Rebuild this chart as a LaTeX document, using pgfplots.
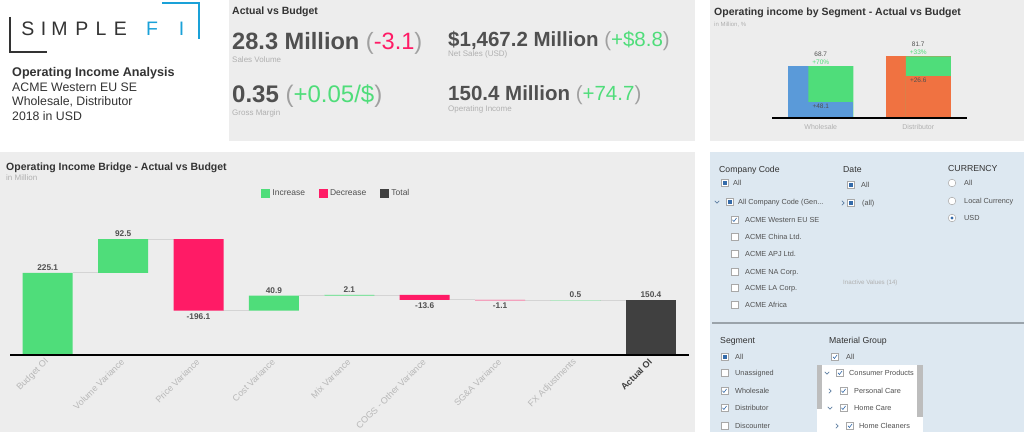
\documentclass[border=0pt]{standalone}
\usepackage{fontspec}
\setmainfont{Liberation Sans}
\usepackage{pgfplots}
\usepackage{pgfplotstable}
\pgfplotsset{compat=1.18}

\definecolor{panel}{HTML}{EDEDED}
\definecolor{filterbg}{HTML}{DDE8F1}
\definecolor{incgreen}{HTML}{4FDD7A}
\definecolor{decpink}{HTML}{FF1B66}
\definecolor{totgray}{HTML}{404040}
\definecolor{segblue}{HTML}{5A9AD9}
\definecolor{segorange}{HTML}{F07241}
\definecolor{logoblue}{HTML}{1AA1D8}
\definecolor{txtdark}{HTML}{333333}
\definecolor{txtmid}{HTML}{505050}
\definecolor{txtlight}{HTML}{B0B0B0}
\definecolor{tickgray}{HTML}{B8B8B8}
\definecolor{conngray}{HTML}{D4D4D4}
\definecolor{parengray}{HTML}{A0A0A0}
\definecolor{selblue}{HTML}{346BAA}
\definecolor{boxgray}{HTML}{A8A8A8}
\definecolor{scrollgray}{HTML}{BDBDBD}
\definecolor{divgray}{HTML}{9AA3AA}
\definecolor{chev}{HTML}{5F7FA3}

\newcommand{\fs}[1]{\fontsize{#1}{#1}\selectfont}

% waterfall: invisible base + increase / decrease / total
\pgfplotstableread{
x base  inc   dec   tot
0 0     225.1 0     0
1 225.1 92.5  0     0
2 121.5 0     196.1 0
3 121.5 40.9  0     0
4 162.4 2.1   0     0
5 150.9 0     13.6  0
6 149.8 0     1.1   0
7 149.8 0.5   0     0
8 0     0     0     150.4
}\wfdata

% checkbox helpers (x, y of centre)
\newcommand{\boxE}[2]{\draw[boxgray,fill=white,line width=0.5pt] ({#1-3.5},{#2-3.5}) rectangle ({#1+3.5},{#2+3.5});}
\newcommand{\boxP}[2]{\boxE{#1}{#2}\fill[selblue] ({#1-2},{#2-2}) rectangle ({#1+2},{#2+2});}
\newcommand{\boxC}[2]{\boxE{#1}{#2}\draw[selblue,line width=0.6pt] ({#1-2},{#2+0.2}) -- ({#1-0.6},{#2-1.5}) -- ({#1+2},{#2+2});}
\newcommand{\radE}[2]{\draw[boxgray,fill=white,line width=0.5pt] (#1,#2) circle (3.8);}
\newcommand{\radS}[2]{\radE{#1}{#2}\fill[selblue] (#1,#2) circle (1.6);}
\newcommand{\chevD}[2]{\draw[chev,line width=0.6pt] ({#1-2.2},{#2+1.1}) -- (#1,{#2-1.1}) -- ({#1+2.2},{#2+1.1});}
\newcommand{\chevR}[2]{\draw[chev,line width=0.6pt] ({#1-1.1},{#2+2.2}) -- ({#1+1.1},#2) -- ({#1-1.1},{#2-2.2});}
\newcommand{\itm}[3]{\node[anchor=base west,inner sep=0,font=\fs{7.3},text=txtmid] at (#1,#2) {#3};}
\newcommand{\hdr}[3]{\node[anchor=base west,inner sep=0,font=\fs{8.7},text=txtdark] at (#1,#2) {#3};}

\pgfplotsset{
  wfgeom/.style={
    at={(10pt,77pt)}, anchor=south west, scale only axis,
    width=678.6pt, height=146pt,
    xmin=-0.5, xmax=8.5, ymin=0, ymax=400, clip=false,
  },
}

\begin{document}
\begin{tikzpicture}[x=1pt,y=1pt]
\useasboundingbox (0,0) rectangle (1024,432);
\fill[white] (0,0) rectangle (1024,432);

% panels
\fill[panel] (229,291) rectangle (695,432);
\fill[panel] (710,291) rectangle (1024,432);
\fill[panel] (0,0) rectangle (695,280);
\fill[filterbg] (710,0) rectangle (1024,280);
\draw[divgray,line width=1.3pt] (712,109) -- (1024,109);

% logo
\draw[txtdark,line width=2.2pt] (10,415) -- (10,380) -- (47,380);
\draw[logoblue,line width=2.2pt] (162,429) -- (199,429) -- (199,393);
\foreach \c/\xx in {S/28,I/43.5,M/59.5,P/82,L/101,E/120.5}
  \node[anchor=base,inner sep=0,font=\fs{19.5},text=txtdark] at (\xx,396) {\c};
\foreach \c/\xx in {F/152,I/181.5}
  \node[anchor=base,inner sep=0,font=\fs{19.5},text=logoblue] at (\xx,396) {\c};

\node[anchor=base west,inner sep=0,font=\bfseries\fs{12.6},text=txtdark] at (12,355.5) {Operating Income Analysis};
\node[anchor=base west,inner sep=0,font=\fs{12.3},text=txtdark] at (12,340.5) {ACME Western EU SE};
\node[anchor=base west,inner sep=0,font=\fs{12.3},text=txtdark] at (12,326.5) {Wholesale, Distributor};
\node[anchor=base west,inner sep=0,font=\fs{12.3},text=txtdark] at (12,311.5) {2018 in USD};

% KPI panel
\node[anchor=base west,inner sep=0,font=\bfseries\fs{10.5},text=txtdark] at (232,417) {Actual vs Budget};
\node[anchor=base west,inner sep=0,font=\fs{23.6},text=txtmid] at (232,382)
  {\textbf{28.3 Million} {\color{parengray}(}{\color{decpink}-3.1}{\color{parengray})}};
\node[anchor=base west,inner sep=0,font=\fs{8},text=txtlight] at (232,369.5) {Sales Volume};
\node[anchor=base west,inner sep=0,font=\fs{20.5},text=txtmid] at (448,385)
  {\textbf{\$1,467.2 Million} {\color{parengray}(}{\color{incgreen}+\$8.8}{\color{parengray})}};
\node[anchor=base west,inner sep=0,font=\fs{8},text=txtlight] at (448,375) {Net Sales (USD)};
\node[anchor=base west,inner sep=0,font=\fs{24},text=txtmid] at (232,330)
  {\textbf{0.35} {\color{parengray}(}{\color{incgreen}+0.05/\$}{\color{parengray})}};
\node[anchor=base west,inner sep=0,font=\fs{8},text=txtlight] at (232,316.5) {Gross Margin};
\node[anchor=base west,inner sep=0,font=\fs{20.5},text=txtmid] at (448,331)
  {\textbf{150.4 Million} {\color{parengray}(}{\color{incgreen}+74.7}{\color{parengray})}};
\node[anchor=base west,inner sep=0,font=\fs{8},text=txtlight] at (448,320.5) {Operating Income};

% segment chart
\node[anchor=base west,inner sep=0,font=\bfseries\fs{10.5},text=txtdark] at (714,416) {Operating income by Segment - Actual vs Budget};
\node[anchor=base west,inner sep=0,font=\fs{6},text=txtlight] at (714,405) {in Million, \%};
\begin{axis}[
  at={(772pt,314pt)}, anchor=south west, scale only axis,
  width=195pt, height=75.5pt,
  xmin=-0.5, xmax=1.5, ymin=0, ymax=100, clip=false,
  axis x line*=bottom, axis y line=none, axis on top,
  x axis line style={-,black,line width=1.6pt},
  xtick={0,1}, xticklabels={Wholesale,Distributor},
  major tick length=0pt, ytick=\empty,
  xticklabel style={font=\fs{7},text=txtlight,yshift=-2.5pt},
  every node near coord/.append style={font=\fontsize{6.5}{8}\selectfont,align=center,inner sep=1.5pt},
]
\addplot[ybar,bar width=65pt,bar shift=0pt,fill=segblue,draw=none,
  nodes near coords,point meta=explicit symbolic]
  coordinates {(0,68.7) [{\color{txtmid}68.7}\\{\color{incgreen}+70\%}]};
\addplot[ybar,bar width=65pt,bar shift=0pt,fill=segorange,draw=none,
  nodes near coords,point meta=explicit symbolic]
  coordinates {(1,81.7) [{\color{txtmid}81.7}\\{\color{incgreen}+33\%}]};
\addplot[ybar,bar width=45pt,bar shift=10pt,fill=incgreen,draw=none]
  coordinates {(0,68.7) (1,81.7)};
\addplot[ybar,bar width=45pt,bar shift=10pt,fill=segblue,draw=none,
  nodes near coords,point meta=explicit symbolic,
  every node near coord/.append style={anchor=north,text=txtmid}]
  coordinates {(0,20.6) [+48.1]};
\addplot[ybar,bar width=45pt,bar shift=10pt,fill=segorange,draw=none,
  nodes near coords,point meta=explicit symbolic,
  every node near coord/.append style={anchor=north,text=txtmid}]
  coordinates {(1,55.1) [+26.6]};
\end{axis}

% waterfall
\node[anchor=base west,inner sep=0,font=\bfseries\fs{10.5},text=txtdark] at (6,262) {Operating Income Bridge - Actual vs Budget};
\node[anchor=base west,inner sep=0,font=\fs{8},text=txtlight] at (6,251.5) {in Million};

\begin{axis}[wfgeom, hide axis]
% connectors between bars
\addplot[conngray,line width=0.9pt,unbounded coords=jump] coordinates {
  (0.33,225.1) (0.67,225.1) (0.67,nan)
  (1.33,317.6) (1.67,317.6) (1.67,nan)
  (2.33,121.5) (2.67,121.5) (2.67,nan)
  (3.33,162.4) (3.67,162.4) (3.67,nan)
  (4.33,164.5) (4.67,164.5) (4.67,nan)
  (5.33,150.9) (5.67,150.9) (5.67,nan)
  (6.33,149.8) (6.67,149.8) (6.67,nan)
  (7.33,150.3) (7.67,150.3)
};
% value labels above
\addplot[draw=none,nodes near coords,point meta=explicit symbolic,
  every node near coord/.append style={anchor=south,font=\bfseries\fs{8.3},text=txtmid,inner sep=2pt}]
  coordinates {(0,225.1)[225.1] (1,317.6)[92.5] (3,162.4)[40.9] (4,164.5)[2.1] (7,150.3)[0.5] (8,150.4)[150.4]};
% value labels below
\addplot[draw=none,nodes near coords,point meta=explicit symbolic,
  every node near coord/.append style={anchor=north,font=\bfseries\fs{8.3},text=txtmid,inner sep=2.5pt}]
  coordinates {(2,121.5)[-196.1] (5,150.9)[-13.6] (6,149.8)[-1.1]};
\end{axis}

\begin{axis}[wfgeom,
  ybar stacked, bar width=50pt,
  axis x line*=bottom, axis y line=none, axis on top,
  x axis line style={-,black,line width=1.6pt},
  xtick={0,...,8},
  xticklabels={Budget OI,Volume Variance,Price Variance,Cost Variance,Mix Variance,COGS - Other Variance,SG\&A Variance,FX Adjustments,{\bfseries\color{totgray}Actual OI}},
  xticklabel style={xshift=2pt,yshift=-3pt,rotate=45,anchor=east,font=\fs{9},text=tickgray},
  major tick length=0pt, ytick=\empty,
  legend columns=3,
  legend style={at={(0.481,1.106)},anchor=center,draw=none,fill=none,font=\fs{8.5},text=txtmid,
    /tikz/every even column/.append style={column sep=12pt}},
  legend image code/.code={\fill[#1] (0pt,-4.5pt) rectangle (9pt,4.5pt);},
]
\addplot[fill=none,draw=none,forget plot] table[x=x,y=base] {\wfdata};
\addplot[fill=incgreen,draw=none] table[x=x,y=inc] {\wfdata};
\addlegendentry{Increase}
\addplot[fill=decpink,draw=none] table[x=x,y=dec] {\wfdata};
\addlegendentry{Decrease}
\addplot[fill=totgray,draw=none] table[x=x,y=tot] {\wfdata};
\addlegendentry{Total}
\end{axis}

% filter panel: company code / date / currency
\hdr{719}{260}{Company Code}
\boxP{724.5}{249}\itm{733}{246.3}{All}
\chevD{717}{230}\boxP{729.5}{230}\itm{738}{227.3}{All Company Code (Gen...}
\boxC{734.5}{212}\itm{745}{209.3}{ACME Western EU SE}
\boxE{734.5}{195}\itm{745}{192.3}{ACME China Ltd.}
\boxE{734.5}{178}\itm{745}{175.3}{ACME APJ Ltd.}
\boxE{734.5}{160}\itm{745}{157.3}{ACME NA Corp.}
\boxE{734.5}{144}\itm{745}{141.3}{ACME LA Corp.}
\boxE{734.5}{127}\itm{745}{124.3}{ACME Africa}

\hdr{843}{260}{Date}
\boxP{851}{247}\itm{861}{244.3}{All}
\chevR{843}{229}\boxP{851}{229}\itm{862}{226.3}{(all)}
\node[anchor=base west,inner sep=0,font=\fs{6.2},text=txtlight] at (843,148) {Inactive Values (14)};

\hdr{948}{261}{CURRENCY}
\radE{952}{249}\itm{964}{246.3}{All}
\radE{952}{231}\itm{964}{228.3}{Local Currency}
\radS{952}{214}\itm{964}{211.3}{USD}

% filter panel: segment / material group
\hdr{720}{89}{Segment}
\boxP{724.5}{75}\itm{735}{72.3}{All}
\boxE{724.5}{59}\itm{735}{56.3}{Unassigned}
\boxC{724.5}{41}\itm{735}{38.3}{Wholesale}
\boxC{724.5}{24}\itm{735}{21.3}{Distributor}
\boxE{724.5}{6}\itm{735}{3.3}{Discounter}

\hdr{829}{89}{Material Group}
\boxC{835}{75}\itm{846}{72.3}{All}
\fill[white] (817,0) rectangle (923,67);
\fill[scrollgray] (817,23) rectangle (822,67);
\fill[scrollgray] (917,15) rectangle (923,67);
\chevD{827}{59}\boxC{840}{59}\itm{849}{56.3}{Consumer Products}
\chevR{830}{41}\boxC{843.5}{41}\itm{854}{38.3}{Personal Care}
\chevD{830}{24}\boxC{843.5}{24}\itm{854}{21.3}{Home Care}
\chevR{837}{6}\boxC{850}{6}\itm{859}{3.3}{Home Cleaners}
\end{tikzpicture}
\end{document}
